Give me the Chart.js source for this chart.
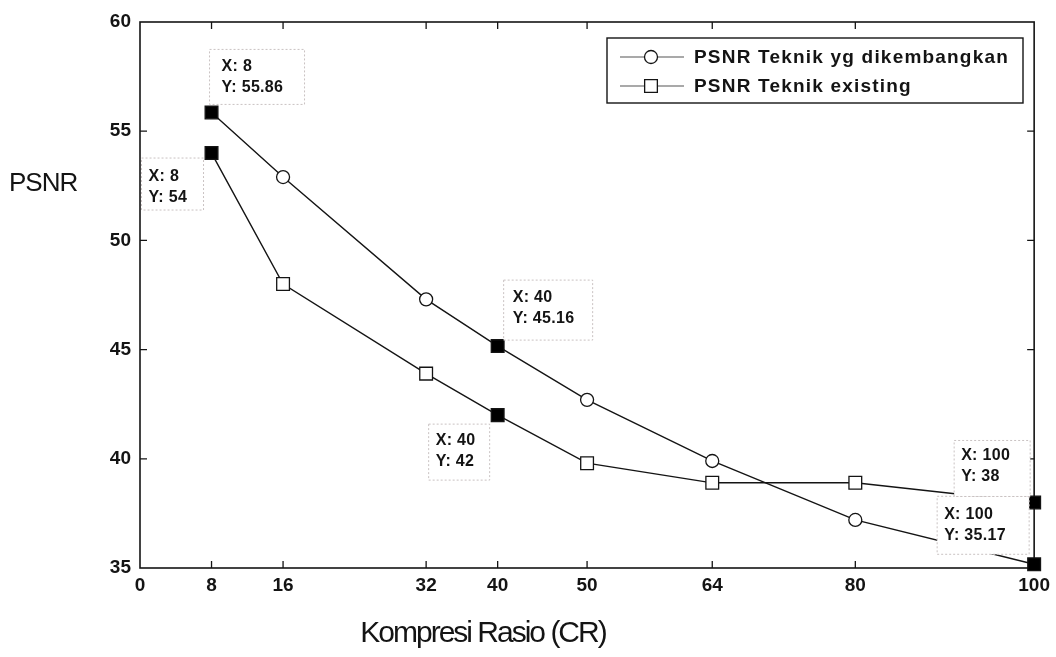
<!DOCTYPE html>
<html>
<head>
<meta charset="utf-8">
<script src="https://cdn.jsdelivr.net/npm/chart.js@4.4.0/dist/chart.umd.min.js"></script>
<style>
html, body { margin: 0; padding: 0; background: #fff; }
#wrap { width: 1056px; height: 657px; position: relative; }
</style>
</head>
<body>
<div id="wrap"><canvas id="chart"></canvas></div>
<script>
// data
const rasio = [8, 16, 32, 40, 50, 64, 80, 100]
const psnrDikembangkan = [55.86, 52.9, 47.3, 45.16, 42.7, 39.9, 37.2, 35.17]
const psnrExisting = [54, 48.0, 43.9, 42, 39.8, 38.9, 38.9, 38]
const xTicks = [0, 8, 16, 32, 40, 50, 64, 80, 100]
const yTicks = [35, 40, 45, 50, 55, 60]
const tipIndex = [0, 3, 7]
const seriesLabels = ['PSNR Teknik yg dikembangkan', 'PSNR Teknik existing']

const FONT = "'Liberation Sans', Arial, sans-serif"
const INK = '#141414'

// where each data tip box sits relative to its point: [dx, dy, w, h], text at [dx, dy]
const tipLayout = [
    [ {box: [-2, -63, 95, 55], text: [10, -46]},
      {box: [6, -66, 89, 60], text: [15, -49]},
      {box: [-97, -68, 92, 58], text: [-90, -50]} ],
    [ {box: [-70, 5, 62, 52], text: [-63, 24]},
      {box: [-69, 9, 61, 56], text: [-62, 25]},
      {box: [-80, -62, 76, 56], text: [-73, -47]} ]
]

function toPoints(ys) {
    return rasio.map((x, i) => ({x: x, y: ys[i]}))
}

function makeDataset(label, ys, style) {
    return {
        label: label,
        data: toPoints(ys),
        showLine: true,
        borderColor: INK,
        borderWidth: 1.4,
        clip: false,
        pointStyle: ctx => tipIndex.includes(ctx.dataIndex) ? 'rect' : style,
        pointRadius: ctx => (tipIndex.includes(ctx.dataIndex) || style === 'rect') ? 9 : 6.5,
        pointBackgroundColor: ctx => tipIndex.includes(ctx.dataIndex) ? '#000' : '#fff',
        pointBorderColor: INK,
        pointBorderWidth: 1.3,
        pointHoverRadius: 0
    }
}

/* frame with inward ticks, like the MATLAB axes box */
const framePlugin = {
    id: 'frame',
    beforeDatasetsDraw(chart) {
        const {ctx, chartArea: a, scales} = chart
        const t = 7
        ctx.save()
        ctx.strokeStyle = INK
        ctx.lineWidth = 1.6
        ctx.strokeRect(a.left, a.top, a.right - a.left, a.bottom - a.top)
        ctx.lineWidth = 1.3
        ctx.beginPath()
        xTicks.slice(1, -1).forEach(v => {
            const px = scales.x.getPixelForValue(v)
            ctx.moveTo(px, a.bottom); ctx.lineTo(px, a.bottom - t)
            ctx.moveTo(px, a.top); ctx.lineTo(px, a.top + t)
        })
        yTicks.slice(1, -1).forEach(v => {
            const py = scales.y.getPixelForValue(v)
            ctx.moveTo(a.left, py); ctx.lineTo(a.left + t, py)
            ctx.moveTo(a.right, py); ctx.lineTo(a.right - t, py)
        })
        ctx.stroke()
        ctx.restore()
    }
}

/* data tips (X: .. / Y: ..) */
const tipPlugin = {
    id: 'tips',
    afterDatasetsDraw(chart) {
        const ctx = chart.ctx
        ctx.save()
        chart.data.datasets.forEach((ds, di) => {
            const meta = chart.getDatasetMeta(di)
            tipIndex.forEach((idx, k) => {
                const el = meta.data[idx]
                const lay = tipLayout[di][k]
                const [bx, by, bw, bh] = lay.box
                ctx.fillStyle = '#fff'
                ctx.fillRect(el.x + bx, el.y + by, bw, bh)
                ctx.setLineDash([2, 2])
                ctx.strokeStyle = '#c9c2c2'
                ctx.lineWidth = 1
                ctx.strokeRect(el.x + bx, el.y + by, bw, bh)
                ctx.setLineDash([])
                ctx.fillStyle = INK
                ctx.font = 'bold 16px ' + FONT
                ctx.letterSpacing = '0.3px'
                ctx.textBaseline = 'middle'
                ctx.textAlign = 'left'
                ctx.fillText('X: ' + ds.data[idx].x, el.x + lay.text[0], el.y + lay.text[1])
                ctx.fillText('Y: ' + ds.data[idx].y, el.x + lay.text[0], el.y + lay.text[1] + 21)
                ctx.letterSpacing = '0px'
            })
        })
        ctx.restore()
    }
}

/* legend box and axis titles */
const decorPlugin = {
    id: 'decor',
    afterDraw(chart) {
        const ctx = chart.ctx
        ctx.save()
        // legend
        ctx.fillStyle = '#fff'
        ctx.fillRect(607, 38, 416, 65)
        ctx.strokeStyle = INK
        ctx.lineWidth = 1.4
        ctx.strokeRect(607, 38, 416, 65)
        const rows = [57, 86]
        const styles = ['circle', 'rect']
        chart.data.datasets.forEach((ds, i) => {
            const y = rows[i]
            ctx.strokeStyle = '#555'
            ctx.lineWidth = 1.2
            ctx.beginPath()
            ctx.moveTo(620, y); ctx.lineTo(684, y)
            ctx.stroke()
            ctx.fillStyle = '#fff'
            ctx.strokeStyle = INK
            ctx.lineWidth = 1.3
            Chart.helpers.drawPoint(ctx, {pointStyle: styles[i], radius: styles[i] === 'rect' ? 9 : 6.5, rotation: 0, borderWidth: 1.3}, 651, y)
            ctx.fillStyle = INK
            ctx.font = 'bold 19px ' + FONT
            ctx.letterSpacing = '1.2px'
            ctx.textAlign = 'left'
            ctx.textBaseline = 'middle'
            ctx.fillText(ds.label, 694, y + 1)
            ctx.letterSpacing = '0px'
        })
        // axis titles
        ctx.fillStyle = INK
        ctx.font = '26px ' + FONT
        ctx.letterSpacing = '-1px'
        ctx.textAlign = 'left'
        ctx.textBaseline = 'middle'
        ctx.fillText('PSNR', 9, 184)
        ctx.font = '30px ' + FONT
        ctx.letterSpacing = '-2px'
        ctx.textAlign = 'center'
        ctx.fillText('Kompresi Rasio (CR)', 483, 634)
        ctx.restore()
    }
}

new Chart(document.getElementById('chart'), {
    type: 'scatter',
    data: {
        datasets: [
            makeDataset(seriesLabels[0], psnrDikembangkan, 'circle'),
            makeDataset(seriesLabels[1], psnrExisting, 'rect')
        ]
    },
    options: {
        responsive: true,
        maintainAspectRatio: false,
        animation: false,
        events: [],
        layout: { padding: { top: 22, right: 21, left: 0, bottom: 0 } },
        plugins: {
            legend: { display: false },
            tooltip: { enabled: false }
        },
        scales: {
            x: {
                type: 'linear',
                min: 0,
                max: 100,
                afterBuildTicks: scale => { scale.ticks = xTicks.map(v => ({value: v})) },
                afterFit: scale => { scale.height = 89 },
                grid: { display: false, drawTicks: false },
                border: { display: false },
                ticks: {
                    autoSkip: false,
                    maxRotation: 0,
                    padding: 6,
                    color: INK,
                    font: { family: FONT, size: 19, weight: 'bold' }
                }
            },
            y: {
                type: 'linear',
                min: 35,
                max: 60,
                afterBuildTicks: scale => { scale.ticks = yTicks.map(v => ({value: v})) },
                afterFit: scale => { scale.width = 140 },
                grid: { display: false, drawTicks: false },
                border: { display: false },
                ticks: {
                    padding: 9,
                    color: INK,
                    font: { family: FONT, size: 19, weight: 'bold' }
                }
            }
        }
    },
    plugins: [framePlugin, tipPlugin, decorPlugin]
})
</script>
</body>
</html>
